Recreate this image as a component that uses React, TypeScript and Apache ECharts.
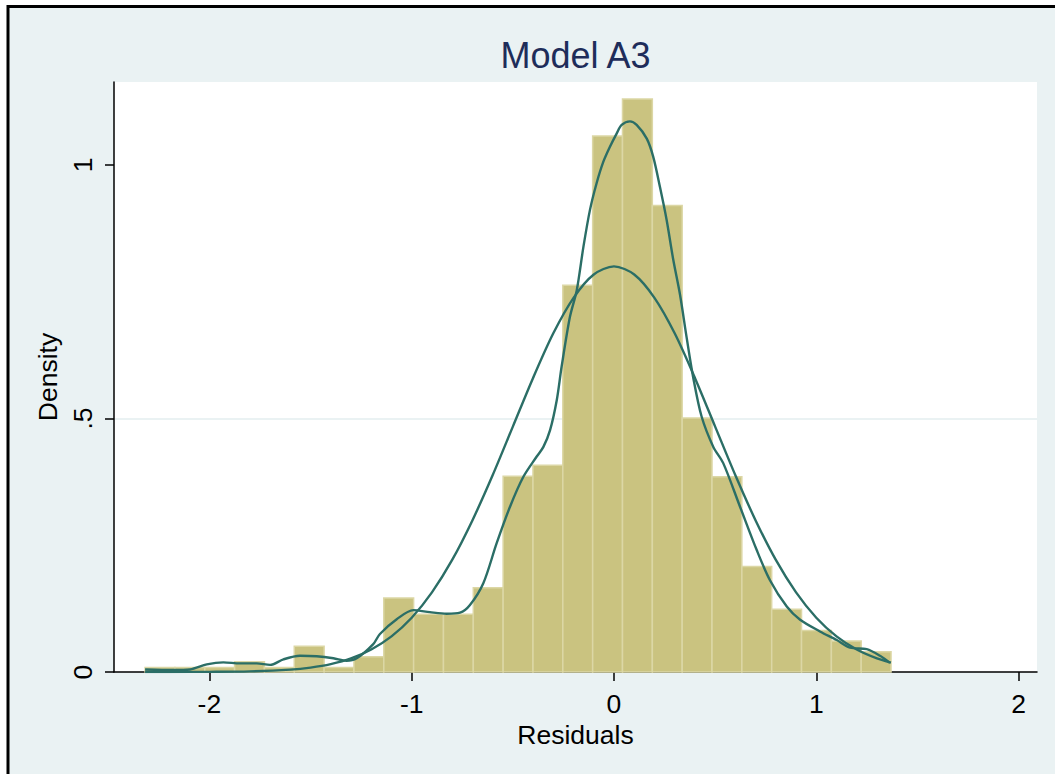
import React, { useEffect, useRef } from "react";
import * as echarts from "echarts";

// Histogram of residuals (density scale)
const binStart = -2.318;
const binWidth = 0.1475;
const binHeights = [
  0.009, 0.009, 0.009, 0.02, 0.009, 0.051, 0.009, 0.03, 0.146, 0.114, 0.114,
  0.166, 0.386, 0.408, 0.763, 1.057, 1.13, 0.92, 0.501, 0.385, 0.208, 0.124,
  0.082, 0.061, 0.04,
];

// Kernel density estimate
const kdeX = [
  -2.318, -2.178, -2.096, -2.013, -1.931, -1.849, -1.766, -1.7, -1.634, -1.552,
  -1.47, -1.387, -1.322, -1.272, -1.19, -1.157, -1.074, -0.992, -0.91, -0.827,
  -0.761, -0.712, -0.646, -0.58, -0.514, -0.448, -0.382, -0.349, -0.316, -0.283,
  -0.259, -0.218, -0.184, -0.151, -0.119, -0.086, -0.053, -0.02, 0.013, 0.038,
  0.079, 0.112, 0.162, 0.194, 0.227, 0.26, 0.293, 0.326, 0.359, 0.392, 0.433,
  0.491, 0.54, 0.623, 0.705, 0.771, 0.854, 0.92, 1.018, 1.101, 1.167, 1.249,
  1.315, 1.364,
];
const kdeY = [
  0.005, 0.004, 0.005, 0.015, 0.019, 0.017, 0.017, 0.014, 0.025, 0.032, 0.031,
  0.027, 0.022, 0.027, 0.055, 0.075, 0.104, 0.122, 0.118, 0.115, 0.117, 0.132,
  0.175, 0.254, 0.326, 0.385, 0.425, 0.444, 0.477, 0.536, 0.602, 0.7, 0.753,
  0.839, 0.911, 0.964, 1.006, 1.036, 1.062, 1.079, 1.086, 1.079, 1.052, 1.016,
  0.957, 0.892, 0.813, 0.745, 0.66, 0.58, 0.504, 0.444, 0.412, 0.326, 0.241,
  0.181, 0.129, 0.103, 0.08, 0.063, 0.048, 0.045, 0.032, 0.018,
];

// Normal density overlay
const normX = [
  -2.318, -2.2, -2.0, -1.8, -1.6, -1.5, -1.4, -1.3, -1.2, -1.1, -1.0, -0.9,
  -0.8, -0.7, -0.6, -0.5, -0.4, -0.3, -0.2, -0.1, 0.0, 0.1, 0.2, 0.3, 0.4, 0.5,
  0.6, 0.7, 0.8, 0.9, 1.0, 1.1, 1.2, 1.3, 1.369,
];
const normY = [
  0.0, 0.0001, 0.0003, 0.0012, 0.0047, 0.0087, 0.0155, 0.0267, 0.0443, 0.0702,
  0.107, 0.157, 0.221, 0.299, 0.388, 0.484, 0.58, 0.668, 0.738, 0.784, 0.8,
  0.784, 0.738, 0.668, 0.58, 0.484, 0.388, 0.299, 0.221, 0.157, 0.107, 0.0702,
  0.0443, 0.0267, 0.0185,
];

const xTicks = [-2, -1, 0, 1, 2];
const yTicks = [0, 0.5, 1];
const titleText = "Model A3";
const xName = "Residuals";
const yName = "Density";

const FONT = "'Liberation Sans', Arial, sans-serif";
const BG = "#eaf2f3";
const CURVE = "#2b6e66";

export default function App() {
  const ref = useRef<HTMLDivElement>(null);
  useEffect(() => {
    if (!ref.current) return;
    const chart = echarts.init(ref.current, undefined, { renderer: "svg" });
    const bins = binHeights.map((h, i) => [
      binStart + i * binWidth,
      binStart + (i + 1) * binWidth,
      h,
    ]);
    const kde = kdeX.map((x, i) => [x, kdeY[i]]);
    const norm = normX.map((x, i) => [x, normY[i]]);
    chart.setOption({
      animation: false,
      backgroundColor: "#ffffff",
      textStyle: { fontFamily: FONT },
      graphic: [
        {
          type: "rect",
          z: -10,
          silent: true,
          shape: { x: 8, y: 6.5, width: 1200, height: 1000 },
          style: { fill: BG, stroke: "#000", lineWidth: 3 },
        },
        {
          type: "text",
          x: 575.5,
          y: 55.2,
          style: {
            text: titleText,
            fontSize: 36,
            fontFamily: FONT,
            fill: "#1e2d5a",
            align: "center",
            verticalAlign: "middle",
          },
        },
      ],
      grid: {
        left: 114,
        right: 18,
        top: 82,
        bottom: 102,
        show: true,
        backgroundColor: "#ffffff",
        borderWidth: 0,
        containLabel: false,
      },
      xAxis: {
        type: "value",
        min: -2.4716,
        max: 2.091,
        name: xName,
        nameLocation: "middle",
        nameGap: 41,
        nameTextStyle: { fontSize: 26.5, color: "#000", fontFamily: FONT },
        axisLine: { show: true, onZero: false, lineStyle: { color: "#000", width: 1.5 } },
        axisTick: {
          show: true,
          customValues: xTicks,
          length: 9,
          lineStyle: { color: "#000", width: 1.5 },
        },
        axisLabel: {
          customValues: xTicks,
          fontSize: 26.5,
          color: "#000",
          margin: 18,
          fontFamily: FONT,
        },
        splitLine: { show: false },
      },
      yAxis: {
        type: "value",
        min: 0,
        max: 1.1637,
        interval: 0.5,
        name: yName,
        nameLocation: "middle",
        nameGap: 44,
        nameRotate: 90,
        nameTextStyle: { fontSize: 26.5, color: "#000", fontFamily: FONT },
        axisLine: { show: true, onZero: false, lineStyle: { color: "#000", width: 1.5 } },
        axisTick: {
          show: true,
          customValues: yTicks,
          length: 9,
          lineStyle: { color: "#000", width: 1.5 },
        },
        axisLabel: {
          customValues: yTicks,
          rotate: 90,
          fontSize: 26.5,
          color: "#000",
          margin: 18,
          fontFamily: FONT,
          formatter: (v: number) => String(v).replace(/^0\./, "."),
        },
        splitLine: {
          show: true,
          showMinLine: false,
          showMaxLine: false,
          lineStyle: { color: BG, width: 2 },
        },
      },
      series: [
        {
          type: "custom",
          z: 1,
          data: bins,
          encode: { x: [0, 1], y: 2 },
          renderItem: (params: any, api: any) => {
            const p0 = api.coord([api.value(0), api.value(2)]);
            const p1 = api.coord([api.value(1), 0]);
            return {
              type: "rect",
              shape: {
                x: p0[0],
                y: p0[1],
                width: p1[0] - p0[0],
                height: p1[1] - p0[1],
              },
              style: { fill: "#cac380", stroke: "#dcd7a5", lineWidth: 1.5 },
            };
          },
        },
        {
          type: "line",
          z: 3,
          data: kde,
          symbol: "none",
          smooth: 0.3,
          lineStyle: { color: CURVE, width: 2.4 },
        },
        {
          type: "line",
          z: 3,
          data: norm,
          symbol: "none",
          smooth: 0.3,
          lineStyle: { color: CURVE, width: 2.4 },
        },
      ],
    });
    return () => chart.dispose();
  }, []);
  return (
    <div
      ref={ref}
      style={{ position: "fixed", left: 0, top: 0, width: 1055, height: 774 }}
    />
  );
}
